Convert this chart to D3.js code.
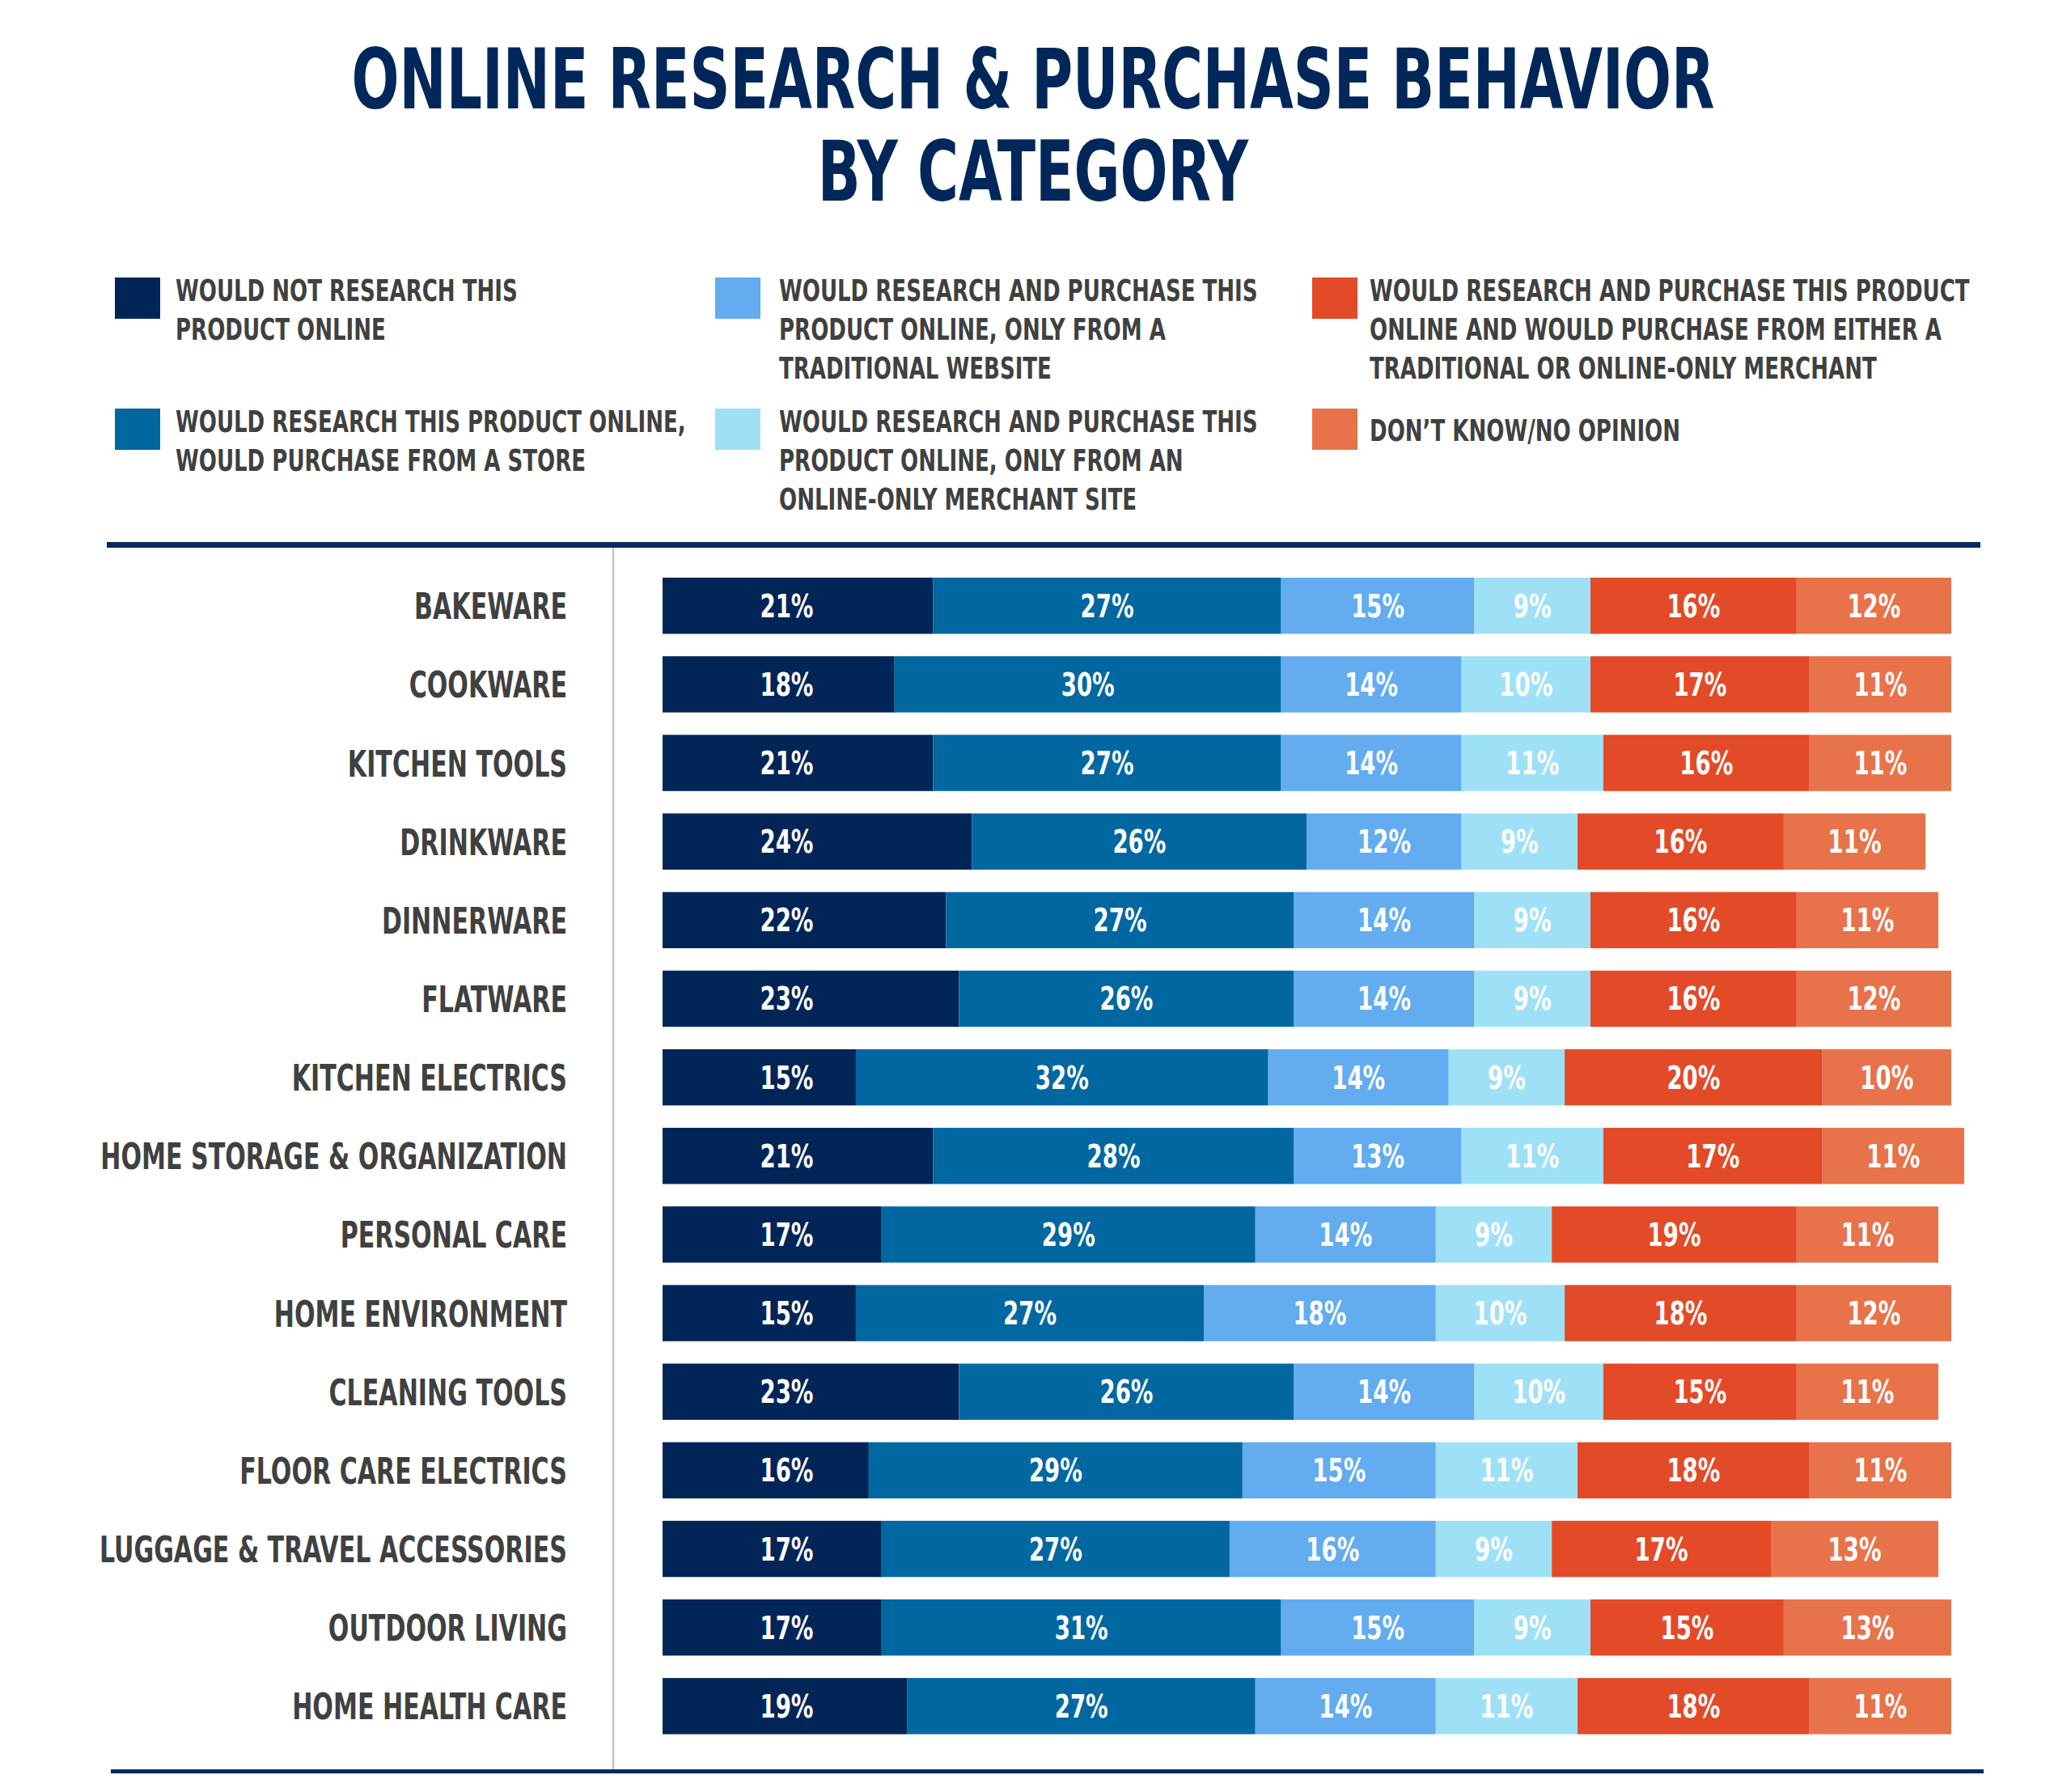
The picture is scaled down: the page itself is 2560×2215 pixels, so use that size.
<!DOCTYPE html>
<html><head><meta charset="utf-8">
<script src="https://cdn.jsdelivr.net/npm/d3@7"></script>
<style>html,body{margin:0;padding:0;background:#fff} svg{display:block}</style>
</head><body>
<svg id="chart" width="2560" height="2215"></svg>
<script>
// ---------------- DATA ----------------
const titleLines = ["ONLINE RESEARCH & PURCHASE BEHAVIOR", "BY CATEGORY"];
const categories = [
  "BAKEWARE", "COOKWARE", "KITCHEN TOOLS", "DRINKWARE", "DINNERWARE", "FLATWARE",
  "KITCHEN ELECTRICS", "HOME STORAGE & ORGANIZATION", "PERSONAL CARE", "HOME ENVIRONMENT",
  "CLEANING TOOLS", "FLOOR CARE ELECTRICS", "LUGGAGE & TRAVEL ACCESSORIES", "OUTDOOR LIVING",
  "HOME HEALTH CARE"
];
const seriesKeys = ["notResearch", "researchStore", "traditionalOnly", "onlineOnly", "either", "dontKnow"];
const notResearch     = [21, 18, 21, 24, 22, 23, 15, 21, 17, 15, 23, 16, 17, 17, 19];
const researchStore   = [27, 30, 27, 26, 27, 26, 32, 28, 29, 27, 26, 29, 27, 31, 27];
const traditionalOnly = [15, 14, 14, 12, 14, 14, 14, 13, 14, 18, 14, 15, 16, 15, 14];
const onlineOnly      = [ 9, 10, 11,  9,  9,  9,  9, 11,  9, 10, 10, 11,  9,  9, 11];
const either          = [16, 17, 16, 16, 16, 16, 20, 17, 19, 18, 15, 18, 17, 15, 18];
const dontKnow        = [12, 11, 11, 11, 11, 12, 10, 11, 11, 12, 11, 11, 13, 13, 11];
const legendLabels = [
  ["WOULD NOT RESEARCH THIS", "PRODUCT ONLINE"],
  ["WOULD RESEARCH THIS PRODUCT ONLINE,", "WOULD PURCHASE FROM A STORE"],
  ["WOULD RESEARCH AND PURCHASE THIS", "PRODUCT ONLINE, ONLY FROM A", "TRADITIONAL WEBSITE"],
  ["WOULD RESEARCH AND PURCHASE THIS", "PRODUCT ONLINE, ONLY FROM AN", "ONLINE-ONLY MERCHANT SITE"],
  ["WOULD RESEARCH AND PURCHASE THIS PRODUCT", "ONLINE AND WOULD PURCHASE FROM EITHER A", "TRADITIONAL OR ONLINE-ONLY MERCHANT"],
  ["DON\u2019T KNOW/NO OPINION"]
];
const seriesColors = ["#022558", "#0067a1", "#62acef", "#9ee1f7", "#e24a28", "#e8724a"];

// ---------------- SETUP ----------------
const FONT = "'Liberation Sans Narrow','DejaVu Sans Condensed','Roboto Condensed','Open Sans',sans-serif";
const svg = d3.select("#chart");
const seriesData = [notResearch, researchStore, traditionalOnly, onlineOnly, either, dontKnow];
const table = categories.map((c, i) => {
  const row = { category: c };
  seriesKeys.forEach((k, j) => row[k] = seriesData[j][i]);
  return row;
});
const stacked = d3.stack().keys(seriesKeys)(table);
const color = d3.scaleOrdinal().domain(seriesKeys).range(seriesColors);

const x = d3.scaleLinear().domain([0, 100]).range([819, 819 + 1593]);
const step = 97.15;
const y = d3.scaleBand().domain(categories)
  .range([714 - 0.1425 * step, 714 - 0.1425 * step + categories.length * step])
  .paddingInner(0.285).paddingOuter(0.1425);

// helper: horizontally condense a group of texts so a reference text hits a target width
function condense(sel, refNode, target) {
  const w = refNode.getComputedTextLength();
  const k = w > 0 ? target / w : 1;
  sel.attr("transform", function () {
    const tx = +this.getAttribute("data-x"), ty = +this.getAttribute("data-y");
    return `translate(${tx},${ty}) scale(${k},1)`;
  });
  return k;
}

// ---------------- TITLE ----------------
const titleBase = [134, 248];
const title = svg.append("g").selectAll("text").data(titleLines).join("text")
  .attr("data-x", 1277).attr("data-y", (d, i) => titleBase[i])
  .attr("text-anchor", "middle")
  .attr("font-family", FONT).attr("font-weight", "bold").attr("font-size", 104)
  .attr("fill", "#00275a")
  .text(d => d);
condense(title, title.nodes()[0], 1685);

// ---------------- LEGEND ----------------
const legendCols = [
  { sx: 142, tx: 217 },
  { sx: 884, tx: 963 },
  { sx: 1622, tx: 1693 }
];
const legendRows = [{ sy: 343, base: 372 }, { sy: 505, base: 534 }];
const legendItems = seriesKeys.map((k, i) => {
  const col = legendCols[Math.floor(i / 2)];
  const row = legendRows[i % 2];
  return { key: k, lines: legendLabels[i], col, row };
});
const lg = svg.append("g");
lg.selectAll("rect").data(legendItems).join("rect")
  .attr("x", d => d.col.sx).attr("y", d => d.row.sy)
  .attr("width", 56).attr("height", 51)
  .attr("fill", d => color(d.key));
const legendTextData = [];
legendItems.forEach(d => {
  const single = d.lines.length === 1;
  d.lines.forEach((ln, j) => legendTextData.push({
    text: ln,
    x: d.col.tx,
    y: single ? d.row.sy + 25.5 + 14 : d.row.base + j * 48
  }));
});
const legendTexts = lg.selectAll("text").data(legendTextData).join("text")
  .attr("data-x", d => d.x).attr("data-y", d => d.y)
  .attr("font-family", FONT).attr("font-weight", "bold").attr("font-size", 38)
  .attr("fill", "#404040")
  .text(d => d.text);
condense(legendTexts, legendTexts.nodes()[0], 423);

// ---------------- RULES ----------------
svg.append("rect").attr("x", 132).attr("y", 670).attr("width", 2448 - 132).attr("height", 7).attr("fill", "#062a5f");
svg.append("rect").attr("x", 137).attr("y", 2187).attr("width", 2452 - 137).attr("height", 5).attr("fill", "#062a5f");
svg.append("line").attr("x1", 758).attr("x2", 758).attr("y1", 677).attr("y2", 2187)
  .attr("stroke", "#c4c4c4").attr("stroke-width", 2.5);

// ---------------- BARS ----------------
const barsG = svg.append("g");
barsG.selectAll("g").data(stacked).join("g")
  .attr("fill", d => color(d.key))
  .selectAll("rect").data(d => d).join("rect")
  .attr("x", d => x(d[0]))
  .attr("y", d => y(d.data.category))
  .attr("width", d => x(d[1]) - x(d[0]))
  .attr("height", y.bandwidth());

// value labels
const firstMean = d3.mean(notResearch);
const labelData = [];
stacked.forEach((s, si) => s.forEach(d => {
  const cx = si === 0 ? x(firstMean / 2) : (x(d[0]) + x(d[1])) / 2;
  labelData.push({ text: (d[1] - d[0]) + "%", x: cx, y: y(d.data.category) + y.bandwidth() / 2 + 14 });
}));
const valTexts = barsG.append("g").selectAll("text").data(labelData).join("text")
  .attr("data-x", d => d.x).attr("data-y", d => d.y)
  .attr("text-anchor", "middle")
  .attr("font-family", FONT).attr("font-weight", "bold").attr("font-size", 39)
  .attr("fill", "#ffffff")
  .text(d => d.text);
condense(valTexts, valTexts.nodes()[0], 66);

// category labels
const catTexts = svg.append("g").selectAll("text").data(categories).join("text")
  .attr("data-x", 701).attr("data-y", d => y(d) + y.bandwidth() / 2 + 16.5)
  .attr("text-anchor", "end")
  .attr("font-family", FONT).attr("font-weight", "bold").attr("font-size", 45)
  .attr("fill", "#404040")
  .text(d => d);
condense(catTexts, catTexts.nodes()[7], 577);
</script>
</body></html>
